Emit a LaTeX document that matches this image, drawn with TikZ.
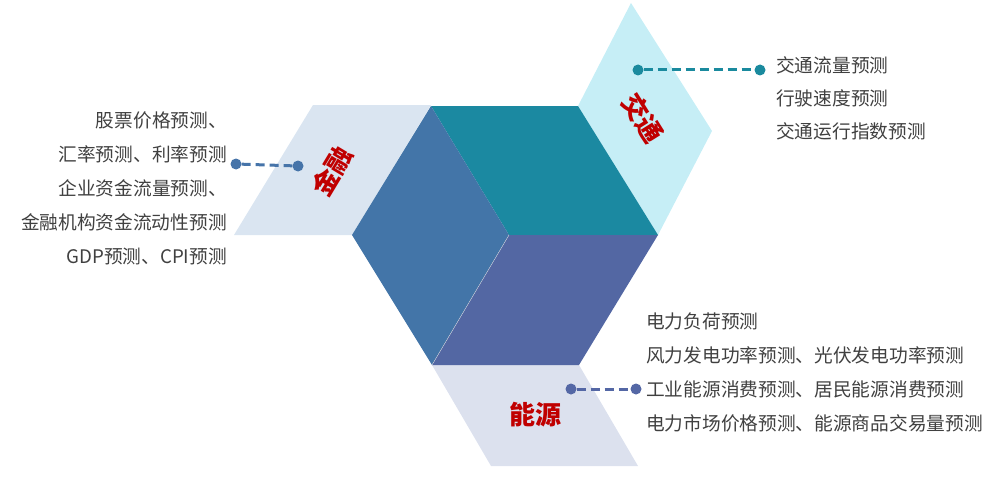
\documentclass[tikz,border=0pt]{standalone}
\usepackage{fontspec}
\usepackage{tikz}
\newfontfamily\cjk{Noto Sans CJK SC}
\definecolor{topteal}{HTML}{1B89A1}
\definecolor{leftblue}{HTML}{4375A8}
\definecolor{bottomblue}{HTML}{5367A3}
\definecolor{finwing}{HTML}{DAE5F1}
\definecolor{trawing}{HTML}{C6EEF6}
\definecolor{enewing}{HTML}{DCE1EE}
\definecolor{labelred}{HTML}{C00000}
\definecolor{itemgray}{HTML}{404040}
\definecolor{finlink}{HTML}{4674A9}
\definecolor{tralink}{HTML}{1A8A9E}
\definecolor{enelink}{HTML}{5467A5}

\begin{document}
\begin{tikzpicture}[x=1pt,y=-1pt,
    seam/.style={white!80!gray, line width=0.3pt},
    wingtext/.style={font=\cjk\bfseries\fontsize{26}{26}\selectfont, text=labelred, inner sep=0pt},
    itemtext/.style={font=\cjk\fontsize{18.7}{22}\selectfont, text=itemgray, inner sep=0pt},
    dot/.style={circle, fill=#1, inner sep=0pt, minimum size=11pt},
    link/.style={#1, line width=3pt, dash pattern=on 9pt off 5pt}]
    \useasboundingbox (0,0) rectangle (996,487);
    % wings
    \fill[finwing] (313,105) -- (431,105) -- (352,235) -- (234,235) -- cycle;
    \fill[trawing] (578,106) -- (631,3) -- (712,131) -- (658,235) -- cycle;
    \fill[enewing] (432,365) -- (579,365) -- (638,466) -- (491,466) -- cycle;
    % cube
    \fill[topteal] (431,106) -- (578,106) -- (658,235) -- (509,235) -- cycle;
    \fill[leftblue] (431,106) -- (509,235) -- (432,365) -- (352,235) -- cycle;
    \fill[bottomblue] (509,235) -- (658,235) -- (579,365) -- (432,365) -- cycle;
    \draw[seam] (509,235) -- (432,365);
    % labels
    \node[wingtext, rotate=59] (fin) at (332,171) {金融};
    \node[wingtext, rotate=-58] (tra) at (643,118) {交通};
    \node[wingtext] (ene) at (535,415) {能源};
    % links
    \node[dot=finlink] (finA) at (236,164) {};
    \node[dot=finlink] (finB) at (298,166) {};
    \draw[link=finlink] (finA) -- (finB);
    \node[dot=tralink] (traA) at (638,70) {};
    \node[dot=tralink] (traB) at (760,70) {};
    \draw[link=tralink] (traA) -- (traB);
    \node[dot=enelink] (eneA) at (571,389) {};
    \node[dot=enelink] (eneB) at (636,389) {};
    \draw[link=enelink] (eneA) -- (eneB);
    % lists
    \foreach \t [count=\i] in {股票价格预测、, 汇率预测、利率预测, 企业资金流量预测、,
        金融机构资金流动性预测, GDP预测、CPI预测}
        \node[itemtext, anchor=east] (finitem\i) at (227,{86+34*\i}) {\t};
    \foreach \t [count=\i] in {交通流量预测, 行驶速度预测, 交通运行指数预测}
        \node[itemtext, anchor=west] (traitem\i) at (776,{32+33*\i}) {\t};
    \foreach \t [count=\i] in {电力负荷预测, 风力发电功率预测、光伏发电功率预测,
        工业能源消费预测、居民能源消费预测, 电力市场价格预测、能源商品交易量预测}
        \node[itemtext, anchor=west] (eneitem\i) at (646,{287+34*\i}) {\t};
\end{tikzpicture}
\end{document}
